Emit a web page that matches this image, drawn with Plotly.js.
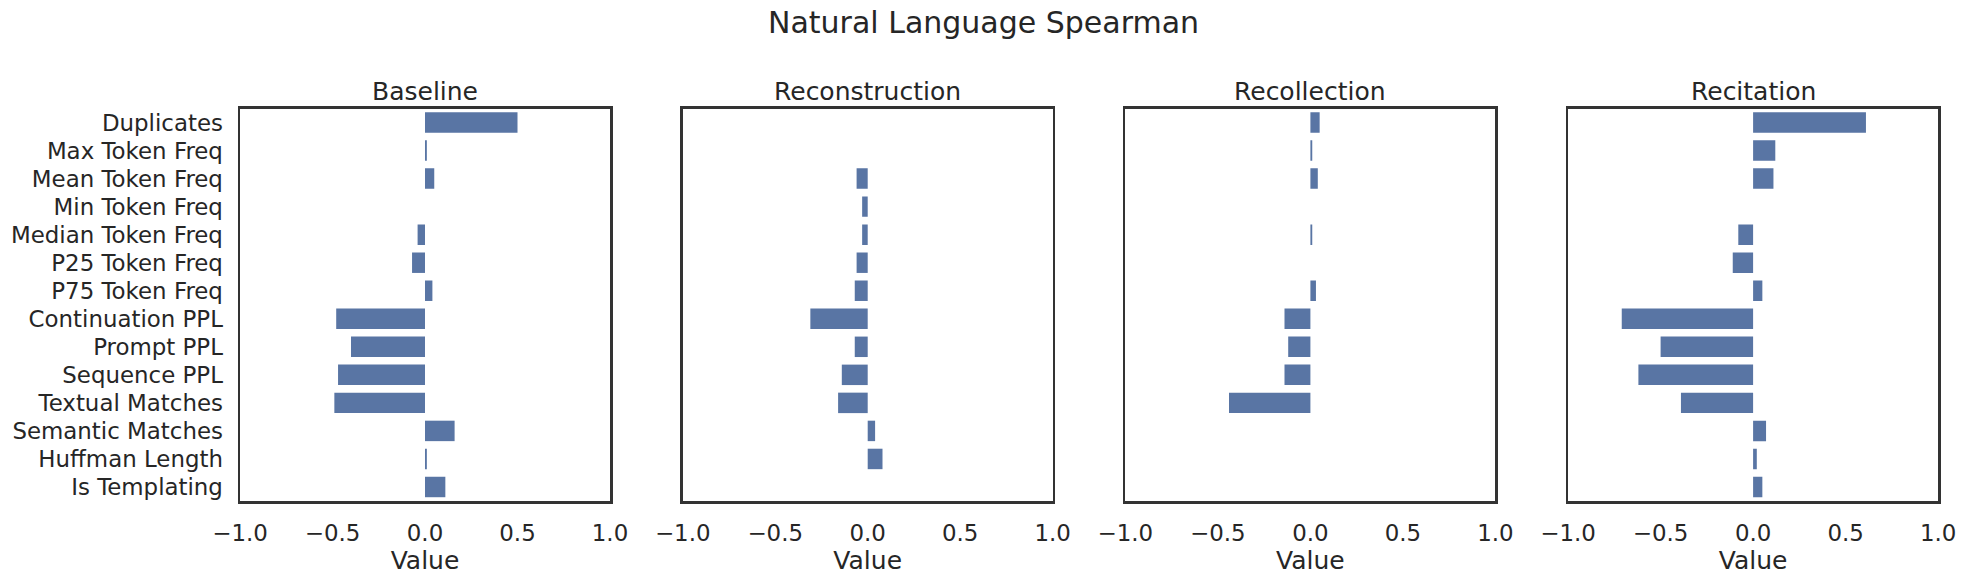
<!DOCTYPE html>
<html>
<head>
<meta charset="utf-8">
<script src="https://cdn.plot.ly/plotly-3.0.1.min.js"></script>
<style>html,body{margin:0;padding:0;background:#fff;}#chart{width:1966px;height:581px;}</style>
</head>
<body>
<div id="chart"></div>
<script>
const categories = ["Duplicates","Max Token Freq","Mean Token Freq","Min Token Freq","Median Token Freq","P25 Token Freq","P75 Token Freq","Continuation PPL","Prompt PPL","Sequence PPL","Textual Matches","Semantic Matches","Huffman Length","Is Templating"];
const panelNames = ["Baseline","Reconstruction","Recollection","Recitation"];
const baseline       = [0.50, 0.01, 0.05, null, -0.04, -0.07, 0.04, -0.48, -0.40, -0.47, -0.49, 0.16, 0.01, 0.11];
const reconstruction = [null, null, -0.06, -0.03, -0.03, -0.06, -0.07, -0.31, -0.07, -0.14, -0.16, 0.04, 0.08, null];
const recollection   = [0.05, 0.01, 0.04, null, 0.01, null, 0.03, -0.14, -0.12, -0.14, -0.44, null, null, null];
const recitation     = [0.61, 0.12, 0.11, null, -0.08, -0.11, 0.05, -0.71, -0.50, -0.62, -0.39, 0.07, 0.02, 0.05];
const xTickVals = [-1, -0.5, 0, 0.5, 1];
const xTickText = ["\u22121.0", "\u22120.5", "0.0", "0.5", "1.0"];
const xLabel = "Value";
const suptitle = "Natural Language Spearman";

(function () {
const series = [baseline, reconstruction, recollection, recitation];
const W = 1966, H = 581;
const left0 = 240, pw = 370, gap = 442.7;
const plotTop = 108.5, plotBottom = 501;
const textColor = "#262626";
const frameColor = "#333333";
const font = "DejaVu Sans, sans-serif";

const traces = [];
const layout = {
  width: W, height: H,
  margin: {l: 0, r: 0, t: 0, b: 0},
  paper_bgcolor: "#ffffff", plot_bgcolor: "#ffffff",
  showlegend: false,
  font: {family: font, color: textColor},
  annotations: []
};

series.forEach((vals, i) => {
  const sfx = i === 0 ? "" : String(i + 1);
  traces.push({
    type: "bar", orientation: "h",
    x: vals, y: categories,
    xaxis: "x" + sfx, yaxis: "y" + sfx,
    marker: {color: "#5975a4"},
    width: 0.73,
    hoverinfo: "x+y"
  });
  const x0 = (left0 + i * gap) / W, x1 = (left0 + i * gap + pw) / W;
  layout["xaxis" + sfx] = {
    domain: [x0, x1], anchor: "y" + sfx,
    range: [-1, 1],
    tickvals: xTickVals, ticktext: xTickText,
    ticks: "outside", ticklen: 10, tickcolor: "rgba(0,0,0,0)",
    tickfont: {family: font, size: 22.9, color: textColor},
    showline: true, mirror: true, linecolor: frameColor, linewidth: 2.5,
    showgrid: false, zeroline: false,
    title: {text: xLabel, font: {family: font, size: 25, color: textColor}, standoff: 6},
    fixedrange: true
  };
  layout["yaxis" + sfx] = {
    domain: [1 - plotBottom / H, 1 - plotTop / H], anchor: "x" + sfx,
    type: "category",
    categoryorder: "array", categoryarray: categories,
    range: [categories.length - 0.5, -0.5],
    showticklabels: i === 0,
    ticks: i === 0 ? "outside" : "", ticklen: 10, tickcolor: "rgba(0,0,0,0)",
    tickfont: {family: font, size: 22.9, color: textColor},
    showline: true, mirror: true, linecolor: frameColor, linewidth: 2.5,
    showgrid: false, zeroline: false,
    fixedrange: true
  };
  layout.annotations.push({
    text: panelNames[i], xref: "paper", yref: "paper",
    x: (x0 + x1) / 2, y: 1 - 91.5 / H,
    xanchor: "center", yanchor: "middle", showarrow: false,
    font: {family: font, size: 25, color: textColor}
  });
});

layout.annotations.push({
  text: suptitle, xref: "paper", yref: "paper",
  x: 0.5, y: 1 - 22.6 / H, xanchor: "center", yanchor: "middle",
  showarrow: false, font: {family: font, size: 30, color: textColor}
});

Plotly.newPlot("chart", traces, layout, {displayModeBar: false, staticPlot: true});
})();
</script>
</body>
</html>
